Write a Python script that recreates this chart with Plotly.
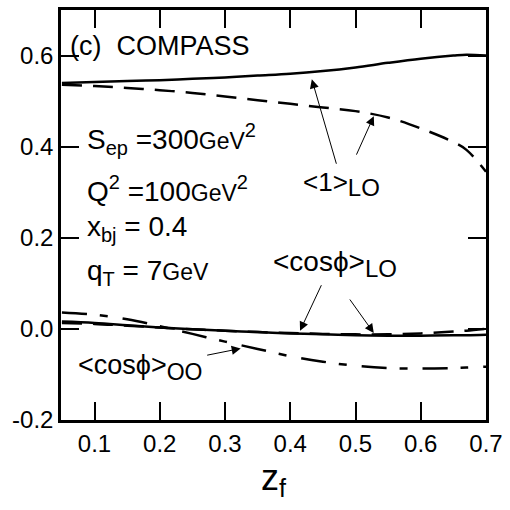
import plotly.graph_objects as go

FONT = "Liberation Sans, Arial, sans-serif"

# z_f sample points
z = [0.05, 0.10, 0.15, 0.20, 0.25, 0.30, 0.35, 0.40, 0.45, 0.50, 0.55, 0.60, 0.65, 0.67, 0.70]

one_lo_solid = [0.540, 0.542, 0.544, 0.546, 0.549, 0.552, 0.556, 0.560, 0.566, 0.574, 0.584, 0.593, 0.600, 0.602, 0.600]
one_lo_dash  = [0.536, 0.533, 0.529, 0.524, 0.518, 0.510, 0.502, 0.494, 0.486, 0.478, 0.464, 0.440, 0.410, 0.393, 0.345]
cos_lo_solid = [0.016, 0.013, 0.008, 0.003, -0.001, -0.004, -0.007, -0.010, -0.012, -0.014, -0.015, -0.015, -0.014, -0.014, -0.013]
cos_lo_dash  = [0.013, 0.011, 0.007, 0.003, -0.001, -0.004, -0.007, -0.009, -0.011, -0.012, -0.012, -0.010, -0.006, -0.004, 0.000]
cos_oo       = [0.036, 0.031, 0.021, 0.006, -0.011, -0.028, -0.044, -0.060, -0.072, -0.081, -0.086, -0.087, -0.086, -0.085, -0.083]

x_ticks = [0.1, 0.2, 0.3, 0.4, 0.5, 0.6, 0.7]
x_ticklabels = ["0.1", "0.2", "0.3", "0.4", "0.5", "0.6", "0.7"]
y_ticks = [-0.2, 0.0, 0.2, 0.4, 0.6]
y_ticklabels = ["-0.2", "0.0", "0.2", "0.4", "0.6"]

fig = go.Figure()
lw = 2.5
fig.add_trace(go.Scatter(x=z, y=one_lo_solid, mode="lines", line=dict(color="black", width=lw, shape="spline")))
fig.add_trace(go.Scatter(x=z, y=one_lo_dash, mode="lines", line=dict(color="black", width=lw, dash="20px,11px", shape="spline")))
fig.add_trace(go.Scatter(x=z, y=cos_lo_solid, mode="lines", line=dict(color="black", width=lw, shape="spline")))
fig.add_trace(go.Scatter(x=z, y=cos_lo_dash, mode="lines", line=dict(color="black", width=lw, dash="20px,11px", shape="spline")))
fig.add_trace(go.Scatter(x=z, y=cos_oo, mode="lines", line=dict(color="black", width=lw, dash="25px,13px,8px,15px", shape="spline")))

def txt(x, y, s, size):
    fig.add_annotation(x=x, y=y, xref="x", yref="y", text=s, showarrow=False,
                       xanchor="left", yanchor="middle", font=dict(family=FONT, size=size, color="black"))

def sz(s, n):
    return "<span style='font-size:%dpx'>%s</span>" % (n, s)

txt(0.059, 0.62, "(c)  COMPASS", 27)
txt(0.086, 0.417, "S<sub>" + sz("ep", 20) + "</sub> =300" + sz("GeV", 23) + "<sup>" + sz("2", 20) + "</sup>", 28)
txt(0.086, 0.307, "Q<sup>" + sz("2", 20) + "</sup> =100" + sz("GeV", 23) + "<sup>" + sz("2", 20) + "</sup>", 28)
txt(0.086, 0.220, "x<sub>" + sz("bj", 20) + "</sub> = 0.4", 28)
txt(0.086, 0.124, "q<sub>" + sz("T", 20) + "</sub> = 7" + sz("GeV", 23), 28)
txt(0.416, 0.317, "<1><sub>" + sz("LO", 24) + "</sub>", 26)
txt(0.370, 0.143, "<cosϕ><sub>" + sz("LO", 24) + "</sub>", 28)
txt(0.071, -0.085, "<cosϕ><sub>" + sz("OO", 23) + "</sub>", 27)

def arrow(x, y, ax, ay):
    fig.add_annotation(x=x, y=y, xref="x", yref="y", ax=ax, ay=ay, axref="pixel", ayref="pixel",
                       text="", showarrow=True, arrowhead=2, arrowsize=1.8, arrowwidth=1, arrowcolor="black")

arrow(0.433, 0.548, 25, 86)
arrow(0.528, 0.467, -18, 40)
arrow(0.415, -0.004, 22, -47)
arrow(0.528, -0.009, -25, -35)
arrow(0.324, -0.043, -35, 7)

axis_common = dict(showgrid=False, zeroline=False, showline=True, linecolor="black", linewidth=2.5,
                   mirror="ticks", ticks="inside", ticklen=18, tickwidth=2, tickcolor="black",
                   tickfont=dict(family=FONT, size=24, color="black"))
fig.update_xaxes(range=[0.0486, 0.7], tickvals=x_ticks, ticktext=x_ticklabels,
                 title=dict(text="z<sub>f</sub>", font=dict(family=FONT, size=36, color="black"), standoff=6),
                 **axis_common)
fig.update_yaxes(range=[-0.2, 0.7], tickvals=y_ticks, ticktext=y_ticklabels, **axis_common)

fig.update_layout(width=510, height=510, margin=dict(l=61, r=18, t=7, b=90),
                  plot_bgcolor="white", paper_bgcolor="white", showlegend=False)

fig.write_html("out.html")
